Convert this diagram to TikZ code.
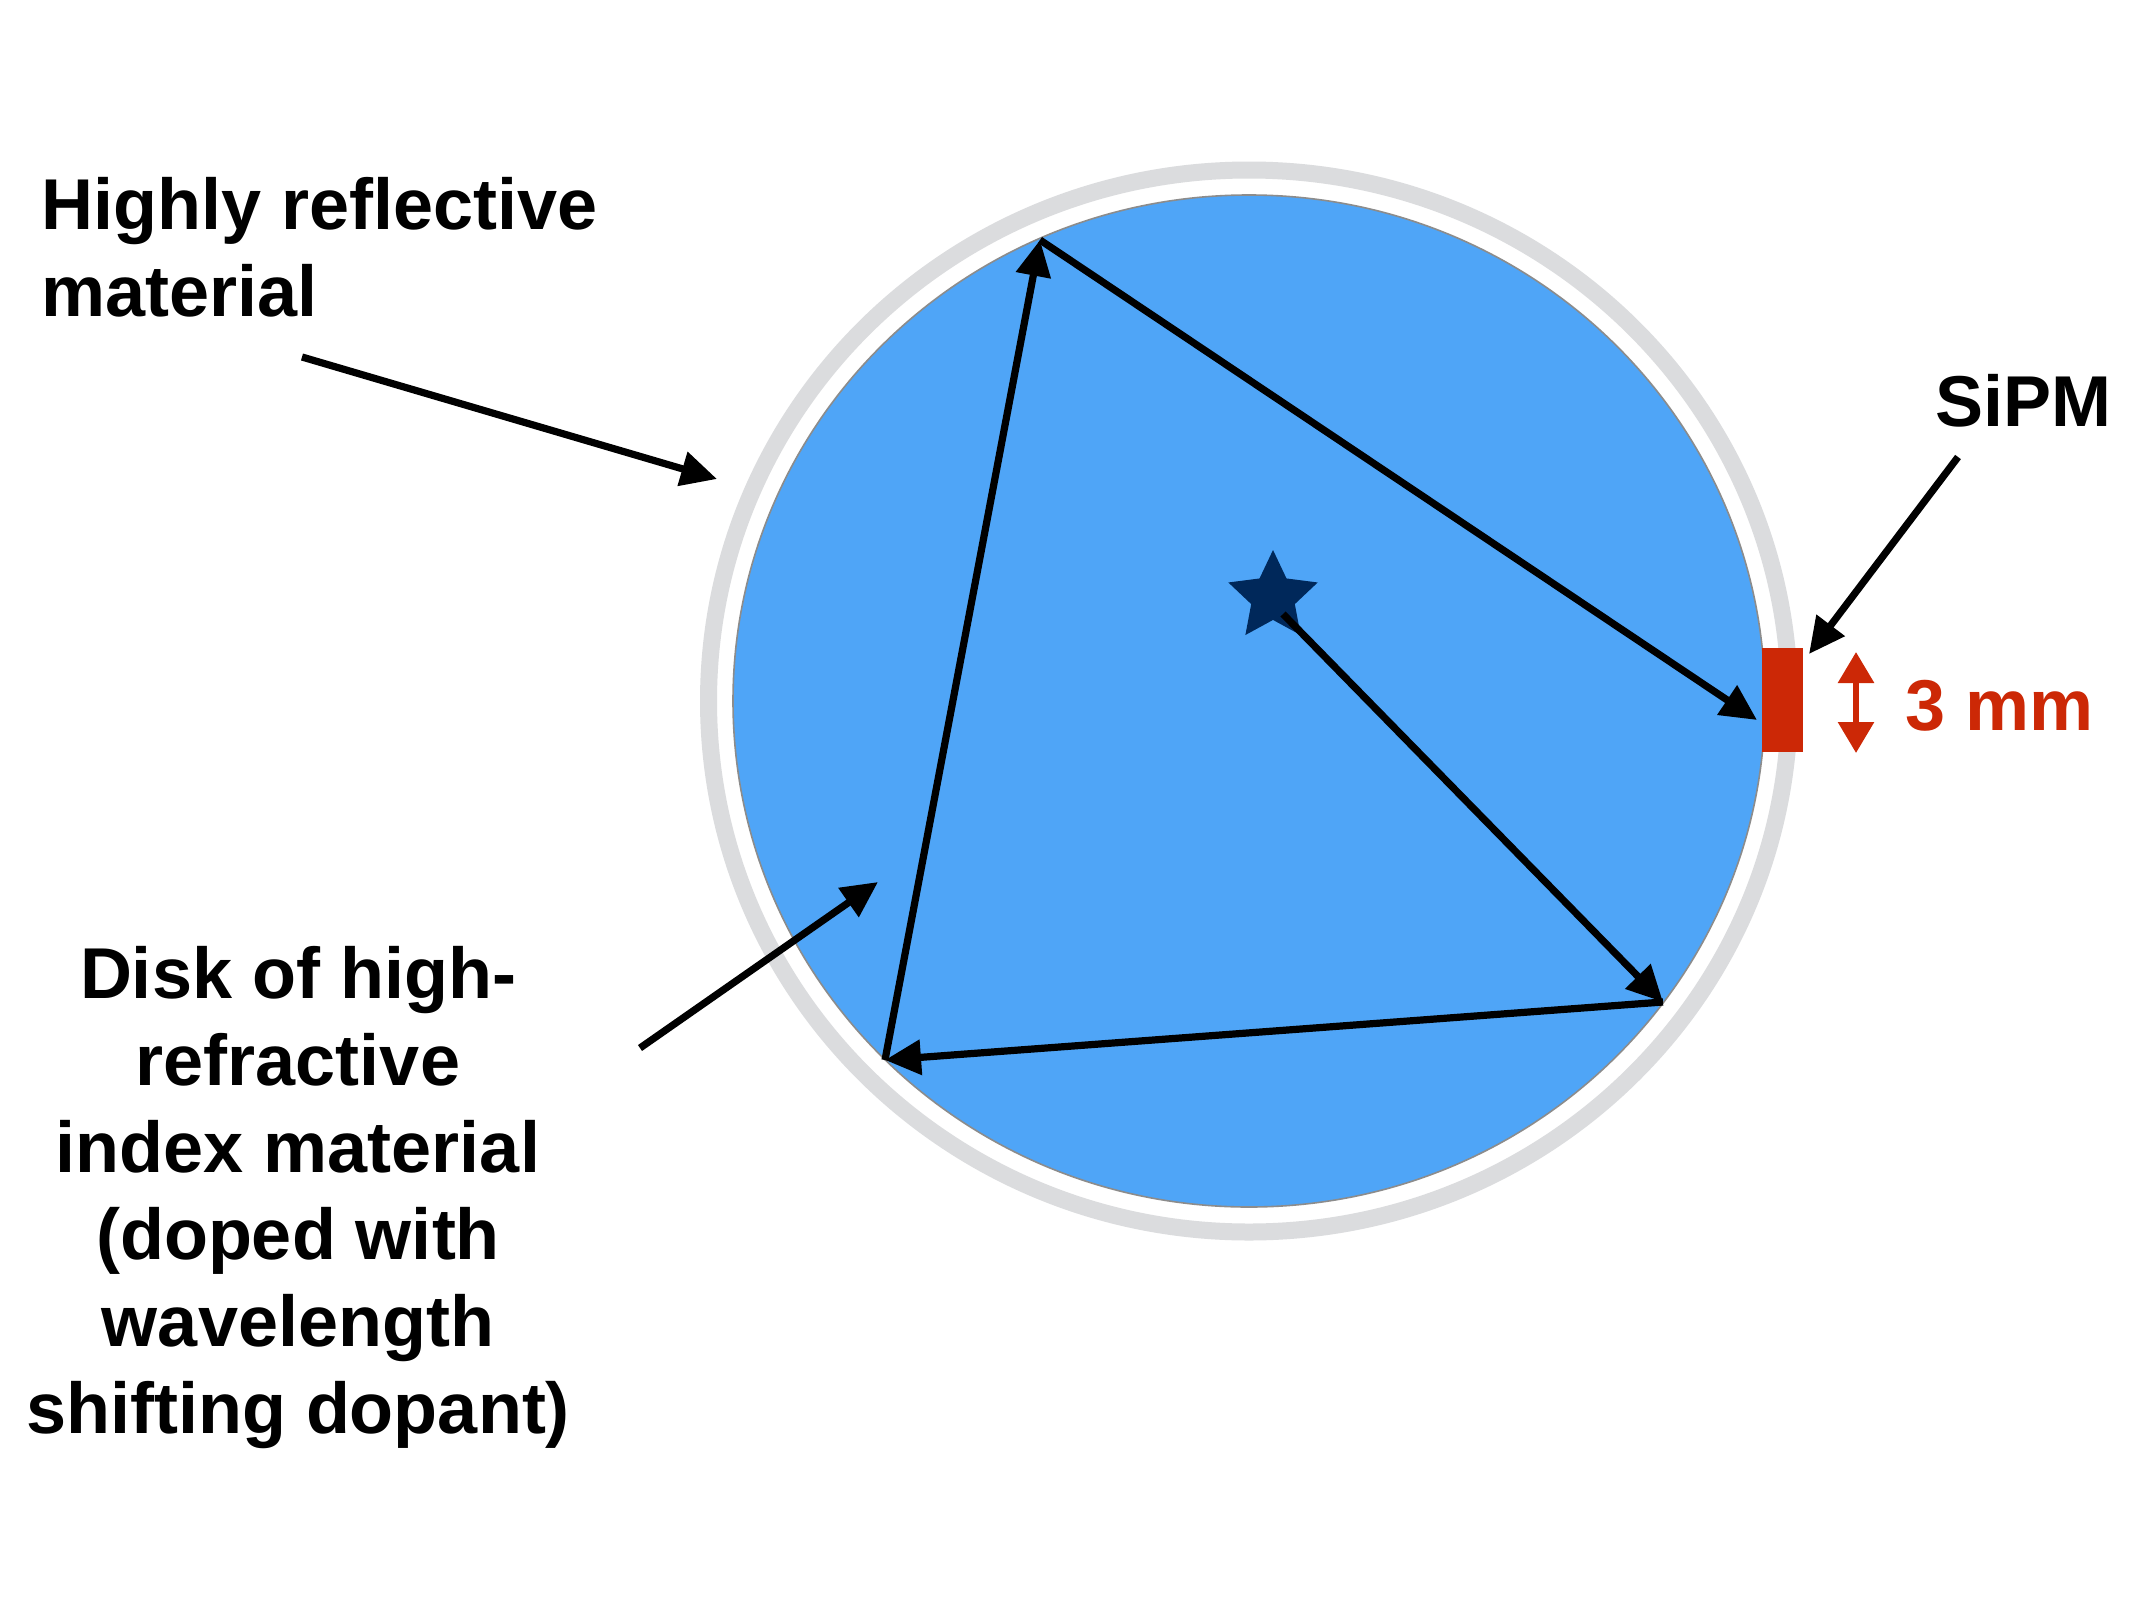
\documentclass[tikz,border=0pt]{standalone}
\usepackage{fontspec}
\setmainfont{Liberation Sans}
\usetikzlibrary{arrows.meta,shapes.geometric}
\definecolor{diskblue}{RGB}{79,165,247}
\definecolor{ringgray}{RGB}{219,220,222}
\definecolor{edgegray}{RGB}{140,140,140}
\definecolor{navy}{RGB}{0,40,90}
\definecolor{sipmred}{RGB}{204,40,6}
\tikzset{
  ray/.style={line width=3.6pt, draw=black, -{Triangle[length=18pt,width=17pt]}},
  pointer/.style={line width=3.6pt, draw=black, -{Triangle[length=18pt,width=17pt]}},
  lbl/.style={inner sep=0pt, font=\bfseries\fontsize{36pt}{43.5pt}\selectfont},
}
\begin{document}
\begin{tikzpicture}[x=0.5pt,y=-0.5pt]
\useasboundingbox[fill=white] (0,0) rectangle (2134,1600);
% reflective ring and disk
\draw[ringgray, line width=8.5pt] (1249,701) ellipse [x radius=270.25pt, y radius=265.5pt];
\draw[edgegray, fill=diskblue, line width=0.8pt] (1249,701) ellipse [x radius=258pt, y radius=253pt];
% SiPM
\node[fill=sipmred, inner sep=0pt, minimum width=20.5pt, minimum height=52pt] (sipm) at (1782.5,700) {};
% source star
\node[star, star points=5, star point ratio=2.05, minimum size=47pt, inner sep=0pt, fill=navy] (src) at (1273,597) {};
% path vertices
\coordinate (s0) at (1283,614);
\coordinate (p1) at (1663,1002);
\coordinate (p2) at (885,1060);
\coordinate (p3) at (1040,240);
\coordinate (p4) at (1757,720);
\draw[ray] (s0) -- (p1);
\draw[ray] (p1) -- (p2);
\draw[ray] (p2) -- (p3);
\draw[ray] (p3) -- (p4);
% labels
\node[lbl, anchor=base west, align=left] (refl) at (41,316) {Highly reflective\\material};
\node[lbl, anchor=base, align=center] (disk) at (298,1433) {Disk of high-\\refractive\\index material\\(doped with\\wavelength\\shifting dopant)};
\node[lbl, anchor=base west] (sipmlbl) at (1935,426) {SiPM};
\node[lbl, anchor=base west, text=sipmred] (mm) at (1905,730) {3 mm};
% pointers
\coordinate (a1) at (302,357);
\coordinate (a1t) at (717,479);
\coordinate (a2) at (640,1048);
\coordinate (a2t) at (878,882);
\coordinate (a3) at (1958,457);
\coordinate (a3t) at (1809,654);
\draw[pointer] (a1) -- (a1t);
\draw[pointer] (a2) -- (a2t);
\draw[pointer] (a3) -- (a3t);
% 3 mm dimension arrow
\coordinate (d1) at (1856,652);
\coordinate (d2) at (1856,753);
\draw[sipmred, line width=3pt, {Triangle[length=15.5pt,width=17.5pt]}-{Triangle[length=15.5pt,width=17.5pt]}] (d1) -- (d2);
\end{tikzpicture}
\end{document}
